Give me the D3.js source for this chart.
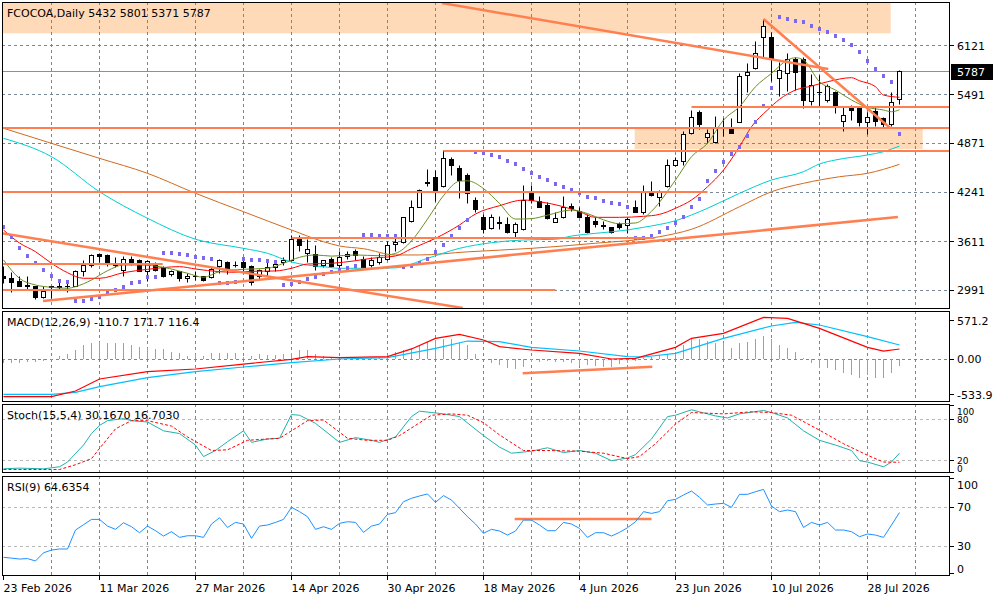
<!DOCTYPE html>
<html><head><meta charset="utf-8">
<script src="https://cdn.jsdelivr.net/npm/d3@7"></script>
<style>
body{margin:0;background:#fff}
svg{display:block;font-family:"DejaVu Sans",sans-serif;font-size:11px}
</style>
</head><body>
<svg id="c" width="1000" height="600"></svg>
<script>
// ---------------- DATA ----------------
const chartTitle = "FCOCOA,Daily  5432 5801 5371 5787";
const macdTitle = "MACD(12,26,9) -110.7 171.7 116.4";
const stochTitle = "Stoch(15,5,4) 30.1670 16.7030";
const rsiTitle = "RSI(9) 64.6354";

const dateLabels = ["23 Feb 2026","11 Mar 2026","27 Mar 2026","14 Apr 2026","30 Apr 2026","18 May 2026","4 Jun 2026","23 Jun 2026","10 Jul 2026","28 Jul 2026"];
const dateLabelBars = [0,12,24,36,48,60,72,84,96,108];

const priceTicks = [6121,5491,4871,4241,3611,2991];
const lastPrice = 5787;
const macdTicks = [571.2,0,-533.9];
const stochTicks = [100,80,20,0];
const stochLevels = [80,20];
const rsiTicks = [100,70,30,0];
const rsiLevels = [70,30];

const open  = [3170,3132,3094,3055,3030,2889,3030,3017,3030,3042,3222,3311,3452,3427,3311,3247,3388,3375,3222,3324,3273,3184,3222,3132,3158,3158,3145,3286,3337,3311,3337,3286,3158,3222,3273,3337,3363,3632,3465,3452,3311,3388,3311,3414,3478,3388,3299,3337,3388,3568,3594,3875,4042,4356,4426,4311,4669,4554,4452,4144,3914,3773,3850,3824,3734,3760,4221,4131,4080,3862,3914,4067,4003,3926,3875,3811,3786,3824,3811,4042,3978,4234,4170,4311,4592,4631,5002,5259,4951,4887,5054,5066,5143,5733,5835,6220,6232,5707,5771,5938,5950,5400,5515,5425,5515,5156,5310,5310,5131,5284,5182,5105,5432];
const high  = [3286,3209,3158,3170,3042,3042,3042,3081,3081,3240,3375,3452,3465,3440,3401,3414,3414,3388,3363,3337,3286,3247,3234,3196,3222,3170,3286,3388,3350,3350,3375,3299,3260,3337,3375,3401,3683,3683,3632,3555,3375,3401,3478,3478,3504,3414,3401,3465,3606,3696,3926,4144,4285,4541,4528,4772,4695,4592,4490,4170,3952,3952,3939,3926,3850,4336,4336,4183,4106,3978,4183,4093,4042,3952,3914,3875,3798,3862,3926,4144,4336,4375,4272,4669,4695,5028,5297,5297,5041,5220,5182,5182,5771,5899,6181,6463,6296,5912,6027,5976,5976,5758,5745,5630,5528,5335,5361,5335,5259,5335,5207,5515,5801];
const low   = [3068,2953,3030,2991,2863,2876,2876,2991,2953,3030,3158,3273,3337,3286,3273,3170,3311,3222,3106,3222,3150,3170,3106,3081,3119,3106,3132,3196,3184,3273,3222,3055,3119,3158,3222,3311,3350,3478,3337,3247,3273,3273,3222,3388,3375,3273,3273,3324,3375,3478,3581,3862,4042,4311,4119,4298,4452,4157,4093,3990,3721,3760,3760,3721,3670,3747,4093,4042,3888,3850,3901,4003,3914,3721,3798,3760,3721,3760,3721,3978,3952,4183,4067,4298,4567,4580,4977,5041,4874,4874,4964,4990,5131,5515,5822,5976,5656,5464,5528,5553,5310,5361,5348,5387,5246,5028,5169,5080,4977,5080,5054,5080,5371];
const close = [3132,3081,3042,3030,2889,2966,3017,3030,3035,3234,3311,3427,3414,3337,3300,3388,3337,3222,3350,3247,3158,3234,3132,3158,3162,3119,3260,3363,3260,3305,3273,3081,3247,3273,3324,3375,3632,3555,3504,3286,3363,3286,3401,3452,3427,3273,3363,3401,3555,3594,3914,4054,4272,4362,4234,4682,4580,4400,4221,4016,3760,3914,3837,3734,3824,4144,4144,4054,3901,3901,4054,4029,3926,3734,3824,3808,3734,3786,3888,3990,4234,4196,4234,4592,4644,4977,5207,5105,4990,5066,5060,5002,5720,5784,6027,6361,5963,5797,5938,5784,5425,5605,5515,5592,5348,5233,5297,5143,5207,5156,5105,5387,5787];

// moving averages: [bar, price]
const maFast = [[0,3376],[2,3140],[4,3055],[6,3026],[8,3013],[9,3034],[11,3119],[13,3238],[15,3311],[17,3311],[20,3282],[23,3205],[25,3154],[27,3226],[30,3256],[33,3269],[35,3333],[37,3410],[39,3440],[41,3425],[44,3440],[47,3430],[49,3460],[51,3620],[53,3900],[55,4200],[57,4385],[58,4390],[60,4290],[62,4100],[64,3900],[66,3905],[68,3950],[71,4016],[73,3970],[75,3890],[77,3840],[79,3850],[81,4000],[84,4400],[86,4699],[88,4870],[90,5169],[92,5340],[94,5596],[96,5767],[98,5937],[99,5967],[100,5937],[102,5659],[104,5553],[106,5425],[108,5331],[110,5297],[111,5275],[112,5300]];
const maMid = [[0,3760],[2,3593],[4,3482],[6,3333],[8,3213],[10,3141],[12,3141],[15,3213],[18,3256],[22,3290],[24,3260],[27,3226],[29,3218],[31,3230],[34,3235],[36,3269],[38,3324],[41,3333],[44,3366],[46,3397],[49,3427],[51,3520],[54,3653],[57,3824],[59,3965],[62,4071],[65,4144],[67,4122],[70,4058],[72,3994],[74,3922],[77,3922],[80,3935],[82,3960],[84,4038],[86,4144],[88,4314],[90,4528],[92,4827],[93.5,5083],[95.5,5297],[97,5434],[99,5553],[101,5604],[103,5659],[106,5711],[107,5672],[109,5596],[110,5489],[112,5460]];
const maSlow = [[0,4934],[6,4699],[12,4250],[18,3910],[24,3641],[30,3525],[33,3461],[36,3350],[38,3310],[40,3290],[42,3269],[45,3269],[49,3275],[53,3397],[57,3525],[61,3597],[65,3632],[69,3641],[71,3683],[74,3717],[78,3760],[80,3794],[84,3879],[88,4038],[92,4230],[96,4400],[100,4507],[102,4606],[104,4657],[108,4721],[110,4763],[112,4835]];
const maLong = [[0,5063],[6,4870],[12,4678],[18,4486],[24,4230],[30,3994],[36,3760],[40,3610],[42,3555],[45,3520],[49,3440],[52,3440],[58,3480],[66,3525],[74,3590],[82,3674],[86,3769],[92,4058],[96,4250],[100,4358],[104.5,4442],[108,4486],[112,4601]];

const sar = [3792,3664,3533,3430,3337,3247,3170,3106,3097,2850,2850,2872,2898,2956,2991,3033,3077,3097,3158,3158,3469,3461,3452,3439,3418,3397,3388,3077,3077,3097,3388,3375,3375,3363,3354,3055,3064,3097,3128,3161,3196,3225,3247,3273,3299,3696,3696,3687,3683,3683,3290,3302,3343,3388,3482,3568,3683,3789,3888,4763,4750,4720,4691,4644,4605,4541,4486,4442,4400,4349,4314,4272,4237,4186,4166,4131,4109,4093,4058,3653,3661,3683,3738,3781,3846,3930,4058,4157,4387,4519,4635,4733,4827,4968,5143,5348,5575,6484,6459,6441,6420,6373,6331,6292,6249,6194,6126,6040,5928,5822,5736,5652,4989];

// drawn objects
const zones = [
  {fromBar:-1, toBar:110.9, hi:6720, lo:6280},
  {fromBar:78.9, toBar:114.9, hi:5066, lo:4797}
];
const levels = [
  {price:5070, fromBar:-1, toBar:119},
  {price:4772, fromBar:55, toBar:119},
  {price:4250, fromBar:-1, toBar:88},
  {price:5330, fromBar:86, toBar:119},
  {price:3661, fromBar:36, toBar:81.4},
  {price:3320, fromBar:-1, toBar:19.9},
  {price:2995, fromBar:-1, toBar:69}
];
const trendLines = [
  {b1:-0.44, p1:3721, b2:57.4, p2:2761},
  {b1:4.94, p1:2850, b2:111.8, p2:3926},
  {b1:54.8, p1:6668, b2:103.1, p2:5822},
  {b1:95, p1:6463, b2:110.8, p2:5070}
];

const macdHist = [-60,-60,-55,-50,-45,-35,-20,50,70,134,209,233,248,243,243,243,209,184,159,144,144,109,84,50,70,50,84,94,94,84,35,50,70,60,60,70,84,134,134,70,50,20,10,10,0,0,10,20,60,109,134,159,209,258,283,293,293,233,209,70,0,-65,-89,-139,-149,-114,-40,-40,-30,-40,-40,-65,-104,-89,-104,-114,-114,-79,-65,-30,10,35,60,70,109,209,308,293,268,233,233,159,233,258,298,348,298,209,159,99,10,-65,-139,-139,-164,-214,-238,-278,-238,-278,-278,-214,-111];
const macdMain = [[0,-561],[6,-561],[9,-477],[12,-298],[18,-189],[24,-149],[30,-75],[36,-5],[38,35],[42,20],[48,35],[51,150],[54,308],[57,368],[60,283],[62,184],[66,134],[72,84],[76,0],[79,10],[84,174],[86,308],[90,382],[95,621],[98,606],[102,457],[108,174],[110,119],[112,149]];
const macdSignal = [[0,-527],[6,-527],[9,-497],[12,-412],[18,-278],[24,-189],[30,-119],[36,-55],[42,0],[48,20],[54,159],[58,268],[62,258],[66,174],[72,119],[78,35],[80,30],[84,84],[90,308],[96,492],[99,546],[102,507],[108,333],[112,209]];
const macdTrend = {b1:64.9, v1:-214, b2:81.1, v2:-114};

const stochMain = [[0,7],[2,8],[5,7],[7,10],[8,17],[10,42],[11,59],[12,71],[13,78],[15,81],[16,78],[18,76],[20,63],[22,59],[24,42],[25,25],[26.5,34],[28,47],[30,63],[31,46],[33,51],[34.5,52],[36,87],[37,86],[39,74],[42,46],[44,53],[46,49],[47,46],[49,54],[51,84],[52,92],[53.5,90],[55,88],[57,84],[60,56],[62,39],[63.5,30],[66,33],[68,38],[70,31],[72,34],[74,30],[76,19],[78,23],[79,28],[81,51],[83,84],[84,86],[86,94],[87,91],[89,85],[90.5,82],[92,88],[95,93],[96,90],[98,82],[100,63],[102,49],[104,42],[106,34],[107,19],[108,17],[110,10],[111,17],[112,30.2]];
const stochSignal = [[0,6],[7,6],[9,13],[11,22],[12,37],[14,66],[16,78],[18,78],[21,70],[23,54],[24.5,44],[26,34],[28,35],[30.5,49],[33,51],[34.5,52],[36,63],[38,78],[40,79],[42,61],[43,52],[45.5,49],[48,49],[49.5,56],[51.5,71],[53.5,86],[56,88],[58,86],[60,75],[62,57],[65,34],[68,34],[72,33],[75,30],[78,22],[79.5,25],[81.5,44],[84,73],[86,90],[90,88],[93.5,91],[96,90],[98.5,86],[102,64],[105,44],[108,27],[110,17],[112,16.7]];

const rsi = [18.3,17.5,16.5,17,14.5,23,25.8,26.9,26.9,46.5,52,57.5,57.5,50.6,47.2,54,49.9,43.7,50.6,45.8,40.3,44.8,38.9,40.6,40.6,38.9,52.7,59.2,49.2,54.4,52.7,37.9,50.6,51.7,54.4,57.5,70,65.5,60.3,47.2,49.9,47.2,53.4,55.1,54.4,44.1,50.6,52.7,62.7,64.5,75.8,79.3,81.7,83.8,75.2,82.1,77.5,68.9,60.3,52.7,43.1,47.2,45.5,41.3,45.5,56.8,56.8,51.7,45.8,45.8,54.4,52.7,48.2,38.9,43.7,43.7,40.3,44.1,48.9,55.1,65.5,63.7,65.5,76.8,78.2,82.7,86.8,80.3,72.4,73.4,74.1,70,83.4,83.4,86.1,88.5,71.3,65.5,67.2,65.5,49.2,54.4,51.7,54.4,46.5,46.5,44.8,39.6,42.4,41.3,38.9,51.7,64.6];
const rsiTrend = {b1:63.9, v1:57.9, b2:81, v2:57.9};

// ---------------- DRAWING ----------------
const svg = d3.select("#c");
const X0 = 2, X1 = 950;
const panels = {
  main:{top:2,bottom:309}, macd:{top:311,bottom:402},
  stoch:{top:404,bottom:473}, rsi:{top:476,bottom:576}
};
const x = d3.scaleLinear().domain([0,112]).range([3.5,899.5]);
const yMain = d3.scaleLinear().domain([2991,6121]).range([290,45.7]);
const yMacd = d3.scaleLinear().domain([0,571.2]).range([359,320.7]);
const yStoch = d3.scaleLinear().domain([20,80]).range([460,419.3]);
const yRsi = d3.scaleLinear().domain([30,70]).range([546,507.3]);
const snap = v => Math.round(v-0.5)+0.5;

const GRID = "#778899", ORANGE = "#FF7F50", ZONE = "#FFDAB9";

svg.append("rect").attr("width",1000).attr("height",600).attr("fill","#fff");
const defs = svg.append("defs");
Object.entries(panels).forEach(([k,p])=>{
  defs.append("clipPath").attr("id","clip-"+k).append("rect")
    .attr("x",X0).attr("y",p.top).attr("width",X1-X0).attr("height",p.bottom-p.top);
});
const grp = k => svg.append("g").attr("clip-path",`url(#clip-${k})`);
const gridBars = d3.range(6,115,6);

function vGrid(g,p){
  g.selectAll(null).data(gridBars).join("line")
    .attr("x1",d=>x(d)).attr("x2",d=>x(d)).attr("y1",p.top).attr("y2",p.bottom)
    .attr("stroke",GRID).attr("stroke-dasharray","3,3").attr("stroke-width",1);
}
function hLine(g,y,color,dash){
  g.append("line").attr("x1",X0).attr("x2",X1).attr("y1",snap(y)).attr("y2",snap(y))
    .attr("stroke",color).attr("stroke-width",1).attr("stroke-dasharray",dash||null);
}
function rightLabels(ticks,scale,p,size){
  ticks.forEach(t=>{
    const yy = scale(t);
    const ly = Math.max(p.top+7, Math.min(p.bottom-5, yy));
    svg.append("line").attr("x1",X1).attr("x2",X1+4).attr("y1",snap(yy<p.top?p.top+1:yy>p.bottom?p.bottom-1:yy)).attr("y2",snap(yy<p.top?p.top+1:yy>p.bottom?p.bottom-1:yy)).attr("stroke","#000");
    svg.append("text").attr("x",957).attr("y",ly+(size?3.5:4)).attr("fill","#000")
      .style("font-size",size?size+"px":null)
      .text(t===0 && scale===yMacd ? "0.00" : String(t));
  });
}

// ===== MAIN PANEL =====
const gm = grp("main");
const pm = panels.main;
zones.forEach(z=>{
  gm.append("rect").attr("x",Math.max(X0,x(z.fromBar))).attr("y",yMain(z.hi))
    .attr("width",x(z.toBar)-Math.max(X0,x(z.fromBar))).attr("height",yMain(z.lo)-yMain(z.hi))
    .attr("fill",ZONE);
});
priceTicks.forEach(t=>hLine(gm,yMain(t),GRID,"3,3"));
vGrid(gm,pm);
hLine(gm,yMain(lastPrice),"#8592a0",null);

const lineP = (sc)=>d3.line().x(d=>x(d[0])).y(d=>sc(d[1]));
const smoothP = (sc)=>d3.line().x(d=>x(d[0])).y(d=>sc(d[1])).curve(d3.curveMonotoneX);

// candles
open.forEach((o,i)=>{
  const cx = x(i), c = close[i];
  gm.append("line").attr("x1",cx).attr("x2",cx)
    .attr("y1",snap(yMain(high[i]))).attr("y2",snap(yMain(low[i]))).attr("stroke","#000");
  const yt = snap(yMain(Math.max(o,c))), yb = snap(yMain(Math.min(o,c)));
  if (yb-yt < 1){
    gm.append("line").attr("x1",cx-2.5).attr("x2",cx+2.5).attr("y1",yt).attr("y2",yt).attr("stroke","#000");
  } else {
    gm.append("rect").attr("x",cx-2).attr("y",yt).attr("width",4).attr("height",yb-yt)
      .attr("fill", c>=o ? "#fff" : "#000").attr("stroke","#000");
  }
});

// moving averages
[[maLong,"#D2691E"],[maSlow,"#00CED1"],[maMid,"#FF0000"],[maFast,"#6B8E23"]].forEach(([d,col])=>{
  gm.append("path").attr("d",smoothP(yMain)(d)).attr("fill","none").attr("stroke",col).attr("stroke-width",1);
});

// parabolic SAR
gm.selectAll(null).data(sar).join("rect")
  .attr("x",(d,i)=>x(i)-1.5).attr("y",d=>Math.round(yMain(d))-2).attr("width",3).attr("height",4)
  .attr("fill","#7B68EE");

// drawn objects
levels.forEach(l=>{
  const yy = Math.round(yMain(l.price));
  gm.append("line").attr("x1",Math.max(X0,x(l.fromBar))).attr("x2",Math.min(X1,x(l.toBar)))
    .attr("y1",yy).attr("y2",yy).attr("stroke",ORANGE).attr("stroke-width",2);
});
trendLines.forEach(t=>{
  gm.append("line").attr("x1",x(t.b1)).attr("y1",yMain(t.p1)).attr("x2",x(t.b2)).attr("y2",yMain(t.p2))
    .attr("stroke",ORANGE).attr("stroke-width",2.5);
});

// price axis labels
priceTicks.forEach(t=>{
  svg.append("line").attr("x1",X1).attr("x2",X1+4).attr("y1",snap(yMain(t))).attr("y2",snap(yMain(t))).attr("stroke","#000");
  svg.append("text").attr("x",957).attr("y",yMain(t)+4).text(t);
});
const ly = yMain(lastPrice);
svg.append("rect").attr("x",951).attr("y",Math.round(ly)-8).attr("width",42).attr("height",16).attr("fill","#000");
svg.append("text").attr("x",957).attr("y",ly+4).attr("fill","#fff").text(lastPrice);
svg.append("text").attr("x",7).attr("y",17).text(chartTitle);

// ===== MACD =====
const gmc = grp("macd"), pmc = panels.macd;
vGrid(gmc,pmc);
hLine(gmc,yMacd(0),GRID,"3,3");
macdHist.forEach((v,i)=>{
  gmc.append("line").attr("x1",x(i)).attr("x2",x(i)).attr("y1",Math.round(yMacd(0))).attr("y2",Math.round(yMacd(v)))
    .attr("stroke","#A0A0A0").attr("stroke-width",1);
});
gmc.append("path").attr("d",lineP(yMacd)(macdSignal)).attr("fill","none").attr("stroke","#00BFFF").attr("stroke-width",1.2);
gmc.append("path").attr("d",lineP(yMacd)(macdMain)).attr("fill","none").attr("stroke","#FF0000").attr("stroke-width",1.2);
gmc.append("line").attr("x1",x(macdTrend.b1)).attr("y1",yMacd(macdTrend.v1)).attr("x2",x(macdTrend.b2)).attr("y2",yMacd(macdTrend.v2))
  .attr("stroke",ORANGE).attr("stroke-width",2.5);
rightLabels(macdTicks,yMacd,pmc);
svg.append("text").attr("x",7).attr("y",326).text(macdTitle);

// ===== STOCH =====
const gs = grp("stoch"), ps = panels.stoch;
vGrid(gs,ps);
stochLevels.forEach(l=>hLine(gs,yStoch(l),"#B8B8B8","3,3"));
gs.append("path").attr("d",lineP(yStoch)(stochMain)).attr("fill","none").attr("stroke","#20B2AA").attr("stroke-width",1);
gs.append("path").attr("d",lineP(yStoch)(stochSignal)).attr("fill","none").attr("stroke","#FF0000").attr("stroke-width",1).attr("stroke-dasharray","3,2");
rightLabels(stochTicks,yStoch,ps,9);
svg.append("text").attr("x",7).attr("y",419).text(stochTitle);

// ===== RSI =====
const gr = grp("rsi"), pr = panels.rsi;
vGrid(gr,pr);
rsiLevels.forEach(l=>hLine(gr,yRsi(l),"#B8B8B8","3,3"));
gr.append("line").attr("x1",x(rsiTrend.b1)).attr("y1",yRsi(rsiTrend.v1)).attr("x2",x(rsiTrend.b2)).attr("y2",yRsi(rsiTrend.v2))
  .attr("stroke",ORANGE).attr("stroke-width",2.5);
gr.append("path").attr("d",d3.line().x((d,i)=>x(i)).y(d=>yRsi(d))(rsi)).attr("fill","none").attr("stroke","#1E90FF").attr("stroke-width",1);
rightLabels(rsiTicks,yRsi,{top:pr.top+2,bottom:pr.bottom-2});
svg.append("text").attr("x",7).attr("y",491).text(rsiTitle);

// panel frames
Object.values(panels).forEach(p=>{
  svg.append("rect").attr("x",X0+0.5).attr("y",p.top+0.5).attr("width",X1-X0-1).attr("height",p.bottom-p.top-1)
    .attr("fill","none").attr("stroke","#000").attr("stroke-width",1);
});

// date axis
dateLabelBars.forEach((b,k)=>{
  svg.append("line").attr("x1",x(b)).attr("x2",x(b)).attr("y1",576).attr("y2",580).attr("stroke","#000");
  svg.append("text").attr("x",x(b)).attr("y",592).text(dateLabels[k]);
});
</script>
</body></html>
